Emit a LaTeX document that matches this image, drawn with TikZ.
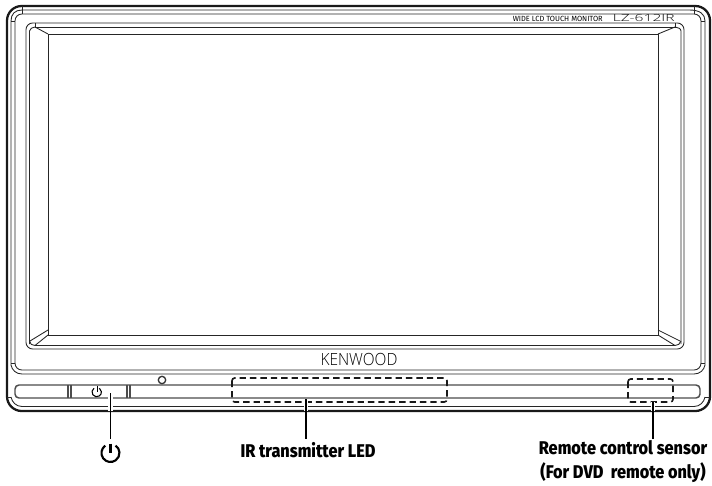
\documentclass[tikz,border=0pt]{standalone}
\usepackage{fontspec}
\setmainfont{Fira Sans}
\newfontfamily\labelfont[FakeStretch=0.885]{Fira Sans ExtraBold}
\newfontfamily\brandfont{Open Sans Light}
\tikzset{
  frame line/.style={draw=black!85, line width=0.65pt},
  strip line/.style={draw=black!70, line width=1.1pt},
  heavy line/.style={draw=black!90, line width=1.7pt},
  leader line/.style={draw=black, line width=1.3pt},
  leader halo/.style={draw=white, line width=3.4pt},
  sensor box/.style={draw=black!90, line width=1.2pt, rounded corners=2pt, dash pattern=on 4.8pt off 3pt},
  callout label/.style={font=\labelfont\fontsize{13.8}{17.6}\selectfont, align=center, inner sep=0pt},
}
\begin{document}
\begin{tikzpicture}[x=0.75pt, y=-0.75pt]
    \useasboundingbox (0,0) rectangle (712,485);

    % housing
    \draw[heavy line, rounded corners=11pt] (7,6) rectangle (710,411);
    \draw[frame line] (11,365) -- (11,21) .. controls (11,14) and (15,10) .. (22,10) -- (689,10) .. controls (700,10) and (705,14) .. (705,21) -- (705,365);
    \draw[frame line] (15,363) -- (15,21) .. controls (15,17) and (18,14) .. (22,14) -- (694,14) .. controls (698,14) and (701,17) .. (701,21) -- (701,363);
    \draw[frame line] (11,21) -- (15,21) (705,21) -- (701,21) (22,6) -- (22,14) (694,6) -- (694,14);

    % bezel
    \draw[frame line, rounded corners=5pt] (26,349) -- (26,23) -- (684,23) -- (684,349) -- cycle;
    \draw[frame line] (35,23) -- (35,27) -- (675,27) -- (675,23);
    \draw[frame line] (29.5,344) -- (29.5,31) .. controls (30,29) and (32,27) .. (35,27);
    \draw[frame line] (681,344) -- (681,31) .. controls (681,29) and (678,27) .. (675,27);
    \draw[frame line] (35,345.5) -- (675,345.5);

    % screen
    \draw[frame line] (48,34) rectangle (658,335);
    \coordinate (screen tl) at (48,34);
    \coordinate (screen tr) at (658,34);
    \coordinate (screen bl) at (48,335);
    \coordinate (screen br) at (658,335);
    \draw[frame line] (screen tl) -- (35,27) (screen tr) -- (675,27);
    \draw[frame line] (screen bl) -- (35,345.5) (screen br) -- (675,345.5);
    \draw[frame line] (48,330) -- (30,341) (658,330) -- (680,341);
    \draw[frame line] (29.5,341) .. controls (30,344) and (32,345.5) .. (35,345.5);
    \draw[frame line] (681,341) .. controls (680,344) and (678,345.5) .. (675,345.5);

    % lower band
    \draw[frame line] (15,363) -- (11,363);
    \draw[frame line] (705,363) -- (701,363);
    \draw[frame line] (15,363) .. controls (15,367) and (18,370) .. (22,370) -- (694,370) .. controls (698,370) and (701,367) .. (701,363);
    \draw[frame line] (11,365) .. controls (12,370) and (16,374) .. (22,374) -- (694,374) .. controls (700,374) and (704,370) .. (705,365);
    \draw[frame line] (11,397) .. controls (12,402) and (16,406.5) .. (22,406.5) -- (694,406.5) .. controls (700,406.5) and (704,402) .. (705,397);
    \draw[frame line] (7,397) -- (11,397) (705,397) -- (710,397);
    \draw[strip line, rounded corners=3pt] (15,385) rectangle (700,398);
    \foreach \sepx in {68,71,127,130}
      \draw[strip line] (\sepx,385) -- (\sepx,398);
    \draw[draw=black!80, line width=1pt] (162,380) circle (3.7);
    \draw[line width=0.8pt] (94,388.2) arc[start angle=235, end angle=-55, radius=4.7];
    \draw[line width=0.8pt] (97.7,385.5) -- (97.7,391.5);

    % sensors
    \draw[sensor box] (232,378) rectangle (447,402);
    \draw[sensor box] (628,379) rectangle (673,402);
    \coordinate (power top) at (110.5,393);
    \coordinate (power end) at (110.5,439);
    \coordinate (ir top) at (306,399);
    \coordinate (ir end) at (306,439);
    \coordinate (remote top) at (653,402);
    \coordinate (remote end) at (653,439);

    % printed names
    \node[inner sep=0pt, xscale=0.92, transform shape, font=\brandfont\fontsize{12.6}{14}\selectfont] (brand) at (359,359) {KENWOOD};
    \node[inner sep=0pt, anchor=east, font=\fontsize{5.6}{6}\selectfont] (monitor) at (603,18.5) {WIDE LCD TOUCH MONITOR};
    \node[inner sep=0pt, anchor=east, xscale=1.6, transform shape, font=\brandfont\fontsize{7.3}{8}\selectfont] (model) at (675,18.5) {LZ-612IR};

    % callouts
    \draw[line width=1.6pt] (105.3,445.6) arc[start angle=235, end angle=-55, radius=9];
    \draw[line width=1.6pt] (110.5,443.5) -- (110.5,453);
    \node[callout label] (ir label) at (308,450) {IR transmitter LED};
    \node[callout label] (remote label) at (623,461.5) {Remote control sensor\\(For DVD\ \ remote only)};
    \draw[leader halo] (power top) -- (110.5,411);
    \draw[leader halo] (ir top) -- (306,411);
    \draw[leader halo] (remote top) -- (653,411);
    \draw[leader line] (power top) -- (power end);
    \draw[leader line] (ir top) -- (ir end);
    \draw[leader line] (remote top) -- (remote end);
  \end{tikzpicture}
\end{document}
